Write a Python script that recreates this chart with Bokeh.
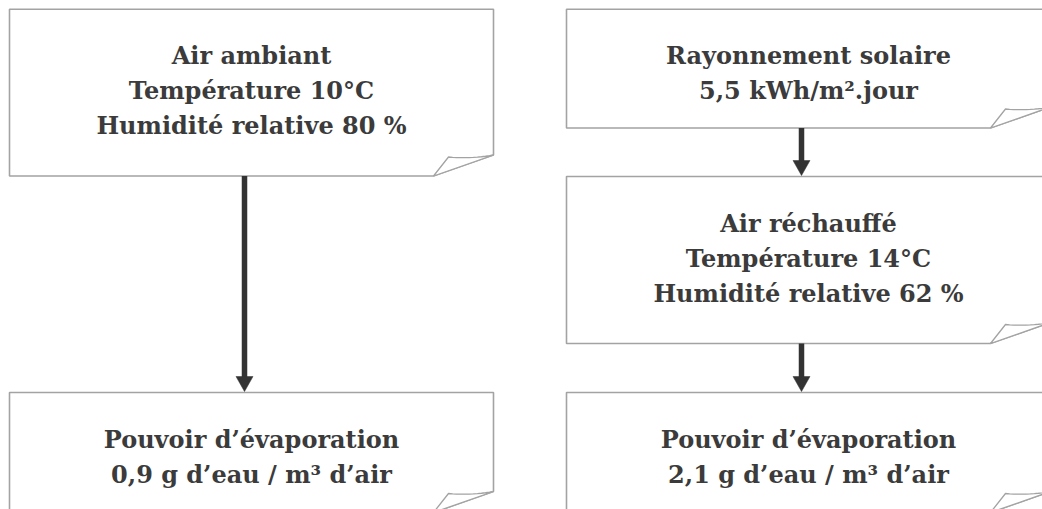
import numpy as np
from bokeh.plotting import figure
from bokeh.models import Range1d
from bokeh.core.properties import value
from bokeh.embed import file_html
from bokeh.resources import INLINE

# ---- content ----
box_lines = [
    ["Air ambiant", "Température 10°C", "Humidité relative 80 %"],
    ["Pouvoir d’évaporation", "0,9 g d’eau / m³ d’air"],
    ["Rayonnement solaire", "5,5 kWh/m².jour"],
    ["Air réchauffé", "Température 14°C", "Humidité relative 62 %"],
    ["Pouvoir d’évaporation", "2,1 g d’eau / m³ d’air"],
]
# arrows: (from box, to box)
links = [(0, 1), (2, 3), (3, 4)]

# ---- layout (page pixel coordinates) ----
box_left = [9, 9, 566, 566, 566]
box_right = [493, 493, 1050, 1050, 1050]
box_top = [8.7, 392, 8.7, 176, 392]
box_bottom = [175.5, 512, 127.5, 343, 512]
arrow_x = [244, 801, 801]

FONT = "DejaVu Serif"
FS = "24px"
TXT = "#3b3b3b"
EDGE = "#a3a3a3"
ARROW = "#333333"

p = figure(width=1042, height=509, x_range=Range1d(0, 1042), y_range=Range1d(509, 0),
           output_backend="svg", toolbar_location=None, min_border=0)
p.axis.visible = False
p.grid.visible = False
p.outline_line_color = None
p.background_fill_color = "white"
p.border_fill_color = "white"

for i, lines in enumerate(box_lines):
    L, R, T, B = box_left[i], box_right[i], box_top[i], box_bottom[i]
    cut_x = R - 60
    cut_y = B - 21
    xs = [L, R, R, cut_x, L]
    ys = [T, T, cut_y, B, B]
    p.patch(xs, ys, fill_color="white", line_color=EDGE, line_width=1.6)
    # folded flap
    tip = (R - 45, B - 19)
    t = np.linspace(0, 1, 12)
    ctrl = (R - 22, B - 17)
    cx = (1 - t) ** 2 * tip[0] + 2 * (1 - t) * t * ctrl[0] + t ** 2 * R
    cy = (1 - t) ** 2 * tip[1] + 2 * (1 - t) * t * ctrl[1] + t ** 2 * cut_y
    fx = [cut_x] + list(cx) + [cut_x]
    fy = [B] + list(cy) + [B]
    p.patch(fx, fy, fill_color="white", line_color=EDGE, line_width=1.3)
    # text
    cxm = (L + R) / 2
    base0 = T + 46.5
    ys_t = [base0 + 35 * k for k in range(len(lines))]
    p.text(x=[cxm] * len(lines), y=ys_t, text=lines, text_font=value(FONT),
           text_font_style="bold", text_font_size=FS, text_color=TXT,
           text_align="center", text_baseline="alphabetic")

for (a, b), ax in zip(links, arrow_x):
    y0 = box_bottom[a]
    y1 = box_top[b] - 1
    head = 15
    p.rect(x=[ax], y=[(y0 + y1 - head) / 2 + 0.5], width=5.5, height=(y1 - head - y0 + 1),
           fill_color=ARROW, line_color=None)
    p.patch([ax - 8.5, ax + 8.5, ax], [y1 - head, y1 - head, y1], fill_color=ARROW,
            line_color=ARROW, line_width=0.5)

open("out.html", "w").write(file_html(p, INLINE))
